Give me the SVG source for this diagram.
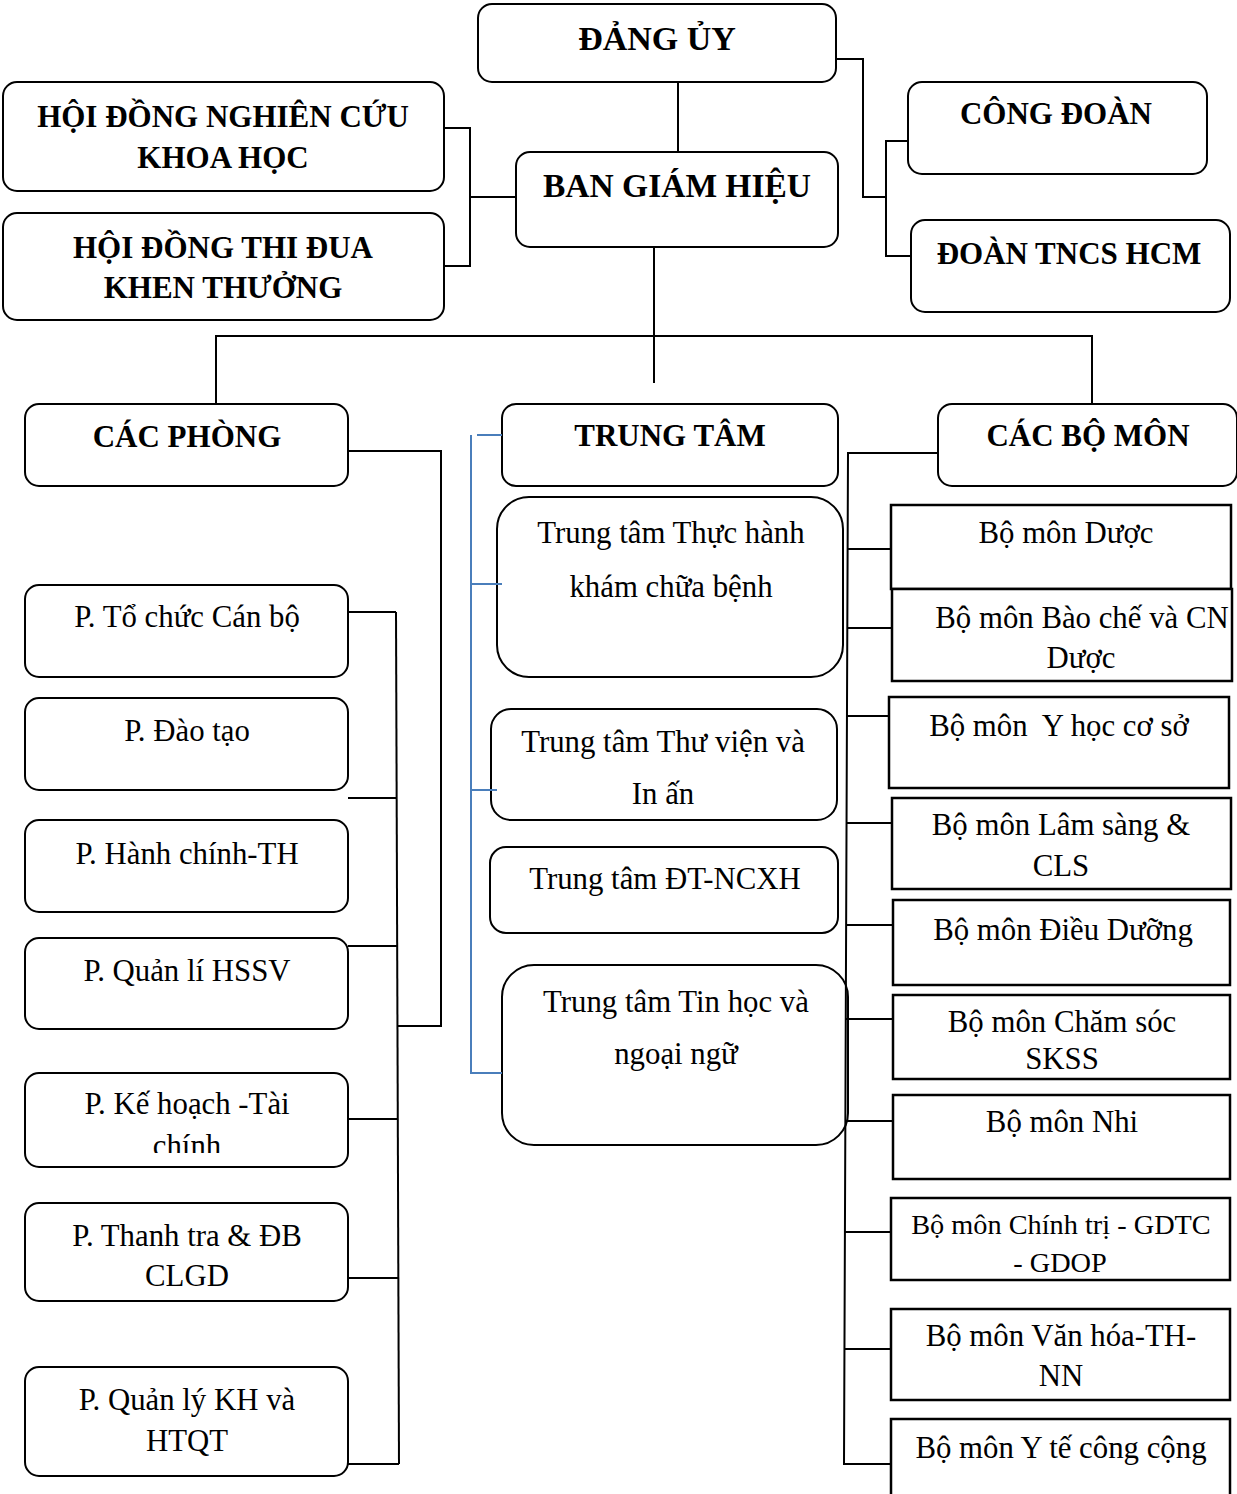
<svg xmlns="http://www.w3.org/2000/svg" width="1237" height="1494" viewBox="0 0 1237 1494">
<style>
.box{fill:#fff;stroke:#000;stroke-width:2}
.sq{fill:#fff;stroke:#000;stroke-width:2.5}
.h{font-family:"Liberation Serif","Times New Roman",serif;font-weight:bold;font-size:31px;text-anchor:middle;fill:#000}
.big{font-size:34px}
.big2{font-size:33.5px}
.t{font-family:"Liberation Serif","Times New Roman",serif;font-size:30.8px;text-anchor:middle;fill:#000;white-space:pre}
.sm{font-size:28.3px}
.c{stroke:#000;stroke-width:2;fill:none}
.b{stroke:#4a7ebb;stroke-width:2;fill:none}
</style>
<defs>
<clipPath id="clipKH"><rect x="0" y="1060" width="400" height="93"/></clipPath>
</defs>
<rect x="0" y="0" width="1237" height="1494" fill="#fff"/>

<g id="dang-uy"><rect class="box" x="478" y="4" width="358" height="78" rx="14"/><text class="h big" x="657" y="50">ĐẢNG ỦY</text></g>
<g id="hd-nckh"><rect class="box" x="3" y="82" width="441" height="109" rx="14"/><text class="h" x="223" y="127">HỘI ĐỒNG NGHIÊN CỨU</text><text class="h" x="223" y="168">KHOA HỌC</text></g>
<g id="hd-tdkt"><rect class="box" x="3" y="213" width="441" height="107" rx="14"/><text class="h" x="223" y="258">HỘI ĐỒNG THI ĐUA</text><text class="h" x="223" y="298">KHEN THƯỞNG</text></g>
<g id="bgh"><rect class="box" x="516" y="152" width="322" height="95" rx="14"/><text class="h big2" x="677" y="197">BAN GIÁM HIỆU</text></g>
<g id="cong-doan"><rect class="box" x="908" y="82" width="299" height="92" rx="14"/><text class="h" x="1056" y="124">CÔNG ĐOÀN</text></g>
<g id="doan-tn"><rect class="box" x="911" y="220" width="319" height="92" rx="14"/><text class="h" x="1069" y="264">ĐOÀN TNCS HCM</text></g>

<g id="cac-phong"><rect class="box" x="25" y="404" width="323" height="82" rx="14"/><text class="h" x="187" y="447">CÁC PHÒNG</text></g>
<g id="trung-tam"><rect class="box" x="502" y="404" width="336" height="82" rx="14"/><text class="h" x="670" y="446">TRUNG TÂM</text></g>
<g id="cac-bo-mon"><rect class="box" x="938" y="404" width="299" height="82" rx="14"/><text class="h" x="1088" y="446">CÁC BỘ MÔN</text></g>

<g id="p-tccb"><rect class="box" x="25" y="585" width="323" height="92" rx="14"/><text class="t" x="187" y="627">P. Tổ chức Cán bộ</text></g>
<g id="p-dt"><rect class="box" x="25" y="698" width="323" height="92" rx="14"/><text class="t" x="187" y="741">P. Đào tạo</text></g>
<g id="p-hc"><rect class="box" x="25" y="820" width="323" height="92" rx="14"/><text class="t" x="187" y="864">P. Hành chính-TH</text></g>
<g id="p-hssv"><rect class="box" x="25" y="938" width="323" height="91" rx="14"/><text class="t" x="187" y="981">P. Quản lí HSSV</text></g>
<g id="p-khtc"><rect class="box" x="25" y="1073" width="323" height="94" rx="14"/><text class="t" x="187" y="1114">P. Kế hoạch -Tài</text><text class="t" x="187" y="1156" clip-path="url(#clipKH)">chính</text></g>
<g id="p-tt"><rect class="box" x="25" y="1203" width="323" height="98" rx="14"/><text class="t" x="187" y="1246">P. Thanh tra &amp; ĐB</text><text class="t" x="187" y="1286">CLGD</text></g>
<g id="p-qlkh"><rect class="box" x="25" y="1367" width="323" height="109" rx="14"/><text class="t" x="187" y="1410">P. Quản lý KH và</text><text class="t" x="187" y="1451">HTQT</text></g>

<g id="tt-th"><rect class="box" x="497" y="497" width="346" height="180" rx="32"/><text class="t" x="671" y="543">Trung tâm Thực hành</text><text class="t" x="671" y="597">khám chữa bệnh</text></g>
<g id="tt-tv"><rect class="box" x="491" y="709" width="346" height="111" rx="20"/><text class="t" x="663" y="752">Trung tâm Thư viện và</text><text class="t" x="663" y="804">In ấn</text></g>
<g id="tt-dt"><rect class="box" x="490" y="847" width="348" height="86" rx="16"/><text class="t" x="665" y="889">Trung tâm ĐT-NCXH</text></g>
<g id="tt-tin"><rect class="box" x="502" y="965" width="346" height="180" rx="32"/><text class="t" x="676" y="1012">Trung tâm Tin học và</text><text class="t" x="676" y="1064">ngoại ngữ</text></g>

<g id="bm-duoc"><rect class="sq" x="891" y="505" width="340" height="84"/><text class="t" x="1066" y="543">Bộ môn Dược</text></g>
<g id="bm-bc"><rect class="sq" x="892" y="589" width="340" height="92"/><text class="t" x="1082" y="628">Bộ môn Bào chế và CN</text><text class="t" x="1081" y="668">Dược</text></g>
<g id="bm-yhcs"><rect class="sq" x="889" y="697" width="340" height="91"/><text class="t" x="1059" y="736">Bộ môn  Y học cơ sở</text></g>
<g id="bm-ls"><rect class="sq" x="892" y="798" width="339" height="91"/><text class="t" x="1061" y="835">Bộ môn Lâm sàng &amp;</text><text class="t" x="1061" y="876">CLS</text></g>
<g id="bm-dd"><rect class="sq" x="893" y="900" width="337" height="85"/><text class="t" x="1063" y="940">Bộ môn Điều Dưỡng</text></g>
<g id="bm-cs"><rect class="sq" x="893" y="995" width="337" height="84"/><text class="t" x="1062" y="1032">Bộ môn Chăm sóc</text><text class="t" x="1062" y="1069">SKSS</text></g>
<g id="bm-nhi"><rect class="sq" x="893" y="1095" width="337" height="84"/><text class="t" x="1062" y="1132">Bộ môn Nhi</text></g>
<g id="bm-ct"><rect class="sq" x="891" y="1198" width="339" height="82"/><text class="t sm" x="1061" y="1234">Bộ môn Chính trị - GDTC</text><text class="t sm" x="1060" y="1272">- GDOP</text></g>
<g id="bm-vh"><rect class="sq" x="891" y="1309" width="339" height="91"/><text class="t" x="1061" y="1346">Bộ môn Văn hóa-TH-</text><text class="t" x="1061" y="1386">NN</text></g>
<g id="bm-ytcc"><rect class="sq" x="891" y="1419" width="339" height="95"/><text class="t" x="1061" y="1458">Bộ môn Y tế công cộng</text></g>

<g id="connectors">
<path class="c" d="M678 82V152"/>
<path class="c" d="M836 59H863V197H886"/>
<path class="c" d="M908 141H886V256H911"/>
<path class="c" d="M444 128H470V266H444M470 197H516"/>
<path class="c" d="M654 247V383"/>
<path class="c" d="M216 404V336H1092V404"/>
<path class="c" d="M348 451H441V1026H397"/>
<path class="c" d="M396 612L399 1464"/>
<path class="c" d="M348 612H396M348 798H396M348 946H397M348 1119H398M348 1278H398M348 1464H399"/>
<path class="c" d="M938 453H848L844 1465"/>
<path class="c" d="M848 549H891M847 628H892M847 716H889M846 823H892M846 925H893M846 1019H893M845 1121H893M845 1232H891M844 1349H891M844 1464H891"/>
<path class="b" d="M477 435H502M471 435V1073H502M471 584H502M471 790H497"/>
</g>
</svg>
